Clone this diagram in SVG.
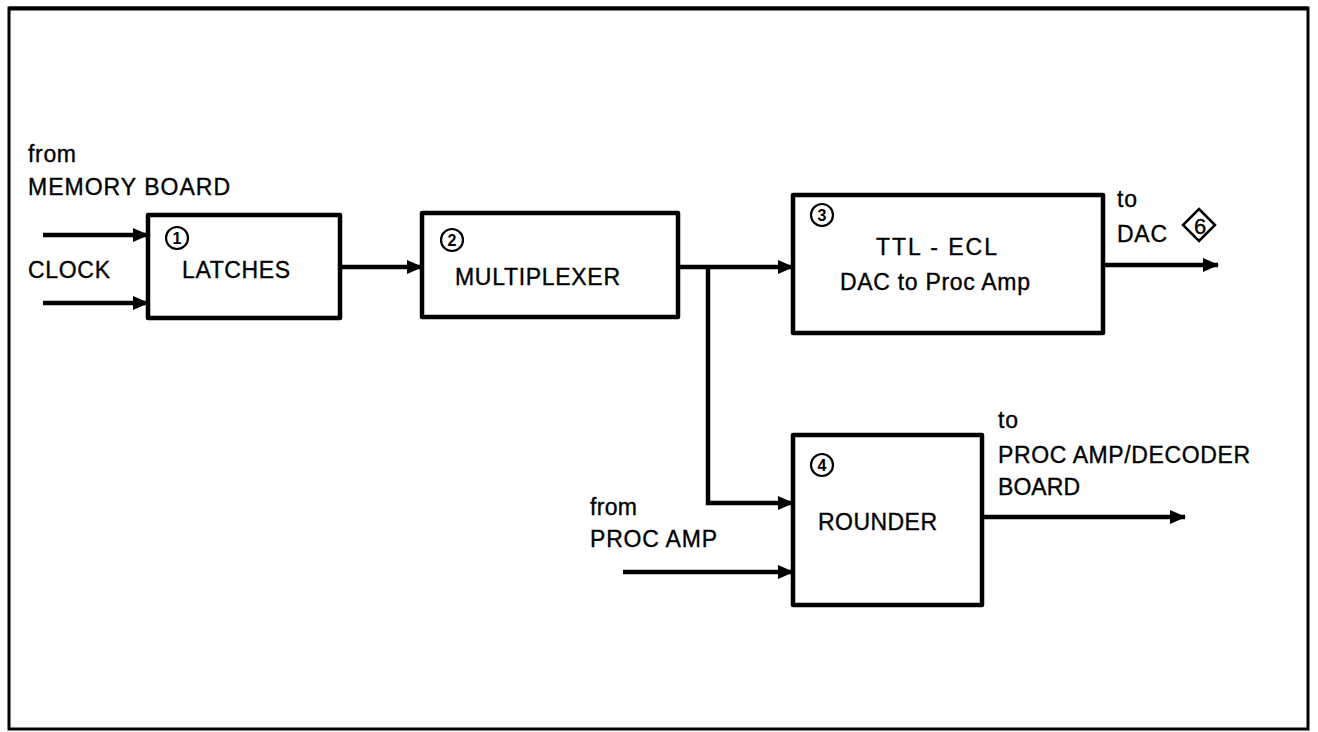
<svg xmlns="http://www.w3.org/2000/svg" width="1318" height="732" viewBox="0 0 1318 732">
<defs>
<style>
.t{font-family:"Liberation Sans",Arial,sans-serif;font-size:23px;fill:#000;stroke:#000;stroke-width:0.35}
.n{font-family:"Liberation Sans",Arial,sans-serif;font-size:16px;font-weight:bold;fill:#000;text-anchor:middle}
.box{fill:#fff;stroke:#000;stroke-width:4.5;stroke-linejoin:round}
.c{fill:none;stroke:#000;stroke-width:2.2}
.w{fill:none;stroke:#000;stroke-width:4.5}
</style>
<marker id="ah" markerUnits="userSpaceOnUse" markerWidth="16" markerHeight="14" refX="15" refY="7" orient="auto">
<path d="M0,0 L16,7 L0,14 z" fill="#000"/>
</marker>
</defs>
<rect width="1318" height="732" fill="#fff"/>
<rect x="9" y="8" width="1299" height="721" fill="none" stroke="#000" stroke-width="3"/>
<line x1="9" y1="8.5" x2="1308" y2="8.5" stroke="#000" stroke-width="4"/>

<g id="connectors">
<path class="w" d="M43,235 H148" marker-end="url(#ah)"/>
<path class="w" d="M43,303 H148" marker-end="url(#ah)"/>
<path class="w" d="M340,267 H422" marker-end="url(#ah)"/>
<path class="w" d="M678,267 H793" marker-end="url(#ah)"/>
<path class="w" d="M708,267 V503 H793" marker-end="url(#ah)"/>
<path class="w" d="M623,572 H793" marker-end="url(#ah)"/>
<path class="w" d="M1103,265 H1218" marker-end="url(#ah)"/>
<path class="w" d="M982,517 H1185" marker-end="url(#ah)"/>
</g>

<g id="labels">
<text class="t" x="28" y="162" textLength="48">from</text>
<text class="t" x="28" y="195" textLength="202">MEMORY BOARD</text>
<text class="t" x="28" y="278" textLength="82">CLOCK</text>
<text class="t" x="1117" y="207" textLength="20">to</text>
<text class="t" x="1117" y="242" textLength="50">DAC</text>
<g id="ref6">
<path d="M1199,209 L1215,225 L1199,241 L1183,225 z" fill="none" stroke="#000" stroke-width="2.5"/>
<text class="t" x="1200" y="234" style="font-size:22px;text-anchor:middle">6</text>
</g>
<text class="t" x="590" y="515" textLength="47">from</text>
<text class="t" x="590" y="547" textLength="127">PROC AMP</text>
<text class="t" x="998" y="428" textLength="20">to</text>
<text class="t" x="998" y="463" textLength="252">PROC AMP/DECODER</text>
<text class="t" x="998" y="495" textLength="82">BOARD</text>
</g>

<g id="latches">
<rect class="box" x="148" y="215" width="192" height="103"/>
<circle class="c" cx="177" cy="238" r="11"/>
<text class="n" x="177" y="244">1</text>
<text class="t" x="182" y="278" textLength="108">LATCHES</text>
</g>

<g id="multiplexer">
<rect class="box" x="422" y="213" width="256" height="104"/>
<circle class="c" cx="452" cy="240" r="11"/>
<text class="n" x="452" y="246">2</text>
<text class="t" x="455" y="285" textLength="165">MULTIPLEXER</text>
</g>

<g id="ttl-ecl">
<rect class="box" x="793" y="195" width="310" height="138"/>
<circle class="c" cx="822" cy="215" r="11"/>
<text class="n" x="822" y="221">3</text>
<text class="t" x="876" y="255" textLength="121">TTL - ECL</text>
<text class="t" x="840" y="290" textLength="190">DAC to Proc Amp</text>
</g>

<g id="rounder">
<rect class="box" x="793" y="435" width="189" height="170"/>
<circle class="c" cx="822" cy="465" r="11"/>
<text class="n" x="822" y="471">4</text>
<text class="t" x="818" y="530" textLength="119">ROUNDER</text>
</g>
</svg>
